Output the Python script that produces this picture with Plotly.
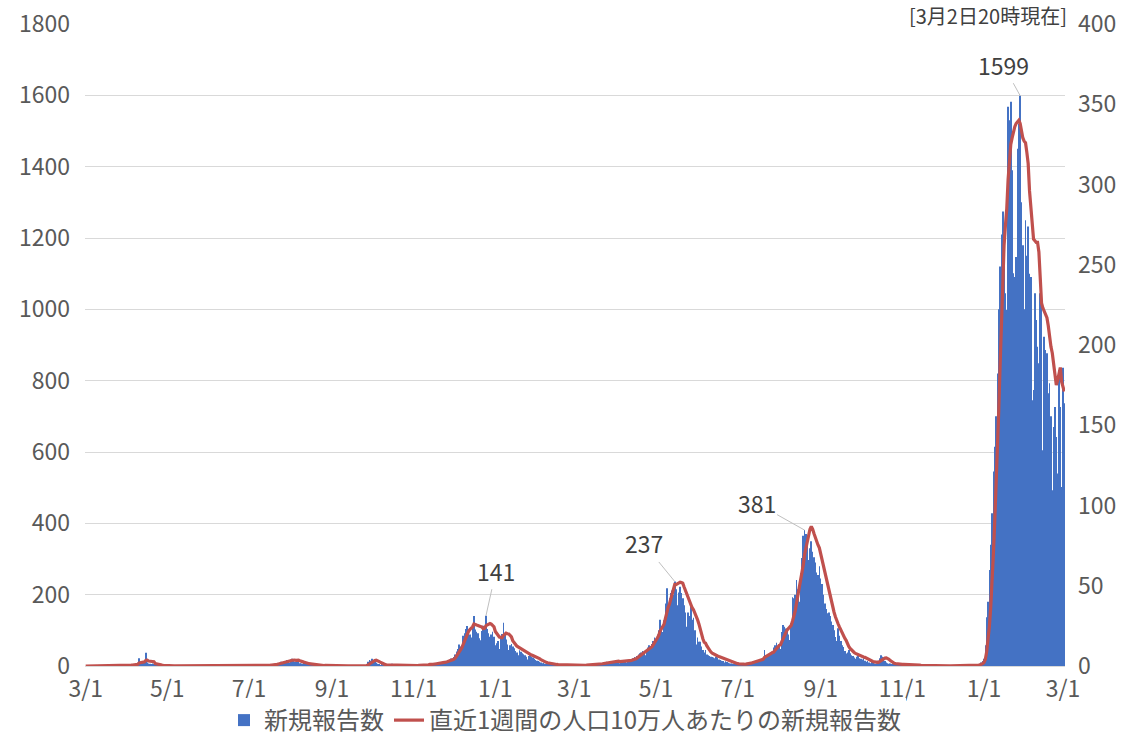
import pandas as pd
import plotly.graph_objects as go

# ---- daily new reports (bars) ----
c_2020_03 = [0,0,0,0,0,0,1,0,0,0,0,0,0,1,0,0,0,0,0,0,0,0,0,0,1,2,1,0,1,2,3]
c_2020_04 = [2,2,1,3,2,4,5,7,9,22,6,8,10,9,37,10,7,6,5,7,4,3,2,2,3,1,1,1,0,1]
c_2020_05 = [0,1,0,0,1,0,0,0,0,1,0,0,0,0,0,0,0,0,0,0,0,0,0,0,0,0,0,0,0,0,0]
c_2020_06 = [0,0,0,0,0,0,0,0,0,0,0,0,0,0,0,0,0,0,0,0,0,1,0,0,0,0,0,0,0,1]
c_2020_07 = [0,1,0,0,2,1,0,1,2,3,1,2,1,3,2,1,4,2,3,5,6,8,7,9,12,10,8,14,17,13,10]
c_2020_08 = [18,20,14,12,11,16,11,8,7,6,9,5,4,6,3,4,2,3,2,1,2,1,3,1,0,1,2,1,0,1,1]
c_2020_09 = [1,0,1,0,0,1,0,0,1,0,0,0,1,0,0,0,1,0,0,0,1,0,0,1,0,2,5,12,17,15]
c_2020_10 = [20,16,12,9,6,3,2,4,1,2,3,5,2,1,4,6,2,1,0,1,2,0,1,1,0,1,2,1,0,1,1]
c_2020_11 = [1,2,1,3,2,1,4,3,2,5,3,4,6,2,5,7,8,6,4,9,11,10,8,12,14,9,16,18,21,15]
c_2020_12 = [25,32,41,48,60,55,58,85,92,104,112,98,88,80,110,140,102,96,92,78,72,98,113,109,141,104,92,82,88,96,82]
c_2021_01 = [58,64,70,48,82,90,121,88,74,60,45,58,62,55,50,42,38,30,44,40,36,33,30,26,18,28,30,26,24,20,17]
c_2021_02 = [15,14,12,10,8,9,6,5,7,6,4,5,3,4,3,2,4,3,2,1,3,2,1,2,1,0,2,1]
c_2021_03 = [1,2,0,1,3,2,1,2,4,1,2,3,2,5,3,4,6,5,3,7,8,6,9,10,12,8,11,14,13,10,12]
c_2021_04 = [15,11,9,8,13,12,16,14,10,12,15,14,18,22,25,20,28,32,36,38,42,35,30,45,52,58,55,62,70,80]
c_2021_05 = [75,88,100,130,112,95,128,175,218,160,190,205,212,200,237,215,170,206,222,205,190,170,150,110,150,140,166,130,135,100,60]
c_2021_06 = [80,68,68,55,45,38,45,32,30,28,26,25,24,22,26,24,18,17,15,14,10,13,11,9,8,7,6,6,5,4]
c_2021_07 = [5,4,3,6,4,5,7,6,8,10,9,12,11,10,14,16,15,18,20,22,45,25,28,30,32,36,40,52,58,65,48]
c_2021_08 = [60,48,95,115,110,105,98,88,73,120,193,190,200,241,215,180,260,303,365,381,370,340,297,330,350,320,305,290,262,255,280]
c_2021_09 = [245,230,200,175,160,148,150,140,125,115,100,81,70,106,85,70,58,53,42,35,38,45,36,30,28,24,20,26,28,22]
c_2021_10 = [20,18,22,15,12,14,10,8,11,9,7,6,8,15,22,30,26,24,14,10,8,6,7,5,6,4,5,3,4,5,3]
c_2021_11 = [4,3,5,2,3,4,2,3,1,2,3,2,1,2,1,0,1,2,1,0,1,0,1,2,0,1,0,1,0,1]
c_2021_12 = [0,1,0,1,0,0,1,0,1,0,2,0,1,0,1,2,1,0,1,0,2,1,3,2,1,2,3,4,6,10,14]
c_2022_01 = [20,58,137,180,269,340,428,545,615,700,820,1000,1120,1210,1274,1214,1045,998,1568,1530,1582,1390,1101,1091,1147,1450,1520,1599,1300,1180,1000]
c_2022_02 = [1250,1150,1232,1100,1091,745,774,1045,970,895,849,1045,1026,605,923,886,877,765,793,700,493,670,726,642,540,830,726,502]
c_2022_03 = [836,737]

# ---- 7-day reports per 100k population (line) ----
l_2020_03 = [0,0,0,0,0,0,0.04,0.04,0.04,0.04,0.04,0.04,0.04,0.07,0.04,0.04,0.04,0.04,0.04,0.04,0,0,0,0,0.04,0.11,0.14,0.14,0.18,0.25,0.36]
l_2020_04 = [0.39,0.39,0.39,0.5,0.54,0.61,0.68,0.86,1.11,1.86,1.96,2.18,2.39,2.54,3.61,3.64,3.11,3.11,3.0,2.89,2.71,1.5,1.21,1.04,0.93,0.79,0.57,0.46,0.36,0.32]
l_2020_05 = [0.25,0.18,0.14,0.11,0.11,0.07,0.07,0.07,0.07,0.07,0.07,0.04,0.04,0.04,0.04,0.04,0,0,0,0,0,0,0,0,0,0,0,0,0,0,0]
l_2020_06 = [0,0,0,0,0,0,0,0,0,0,0,0,0,0,0,0,0,0,0,0,0,0.04,0.04,0.04,0.04,0.04,0.04,0.04,0,0.04]
l_2020_07 = [0.04,0.07,0.07,0.07,0.14,0.18,0.14,0.18,0.21,0.32,0.36,0.36,0.36,0.46,0.5,0.46,0.5,0.54,0.57,0.71,0.82,1.04,1.25,1.43,1.79,2.04,2.14,2.43,2.75,2.96,3.0]
l_2020_08 = [3.21,3.57,3.79,3.71,3.5,3.61,3.64,3.29,2.82,2.54,2.43,2.21,1.79,1.61,1.43,1.32,1.18,0.96,0.86,0.75,0.61,0.54,0.5,0.46,0.36,0.32,0.36,0.32,0.29,0.21,0.21]
l_2020_09 = [0.25,0.21,0.18,0.14,0.14,0.14,0.11,0.07,0.1,0.07,0.07,0.07,0.1,0.07,0.07,0.07,0.07,0.04,0.04,0.04,0.07,0.04,0.04,0.07,0.07,0.14,0.32,0.71,1.32,1.86]
l_2020_10 = [2.54,3.11,3.46,3.61,3.39,2.89,2.43,1.86,1.32,0.96,0.75,0.71,0.68,0.64,0.64,0.82,0.82,0.75,0.57,0.54,0.57,0.43,0.25,0.21,0.18,0.21,0.25,0.21,0.21,0.21,0.21]
l_2020_11 = [0.25,0.29,0.25,0.32,0.39,0.39,0.5,0.57,0.57,0.71,0.71,0.79,0.96,0.89,0.96,1.14,1.25,1.36,1.36,1.46,1.79,1.96,2.0,2.14,2.43,2.61,2.86,3.11,3.5,3.75]
l_2020_12 = [4.21,4.86,6.0,7.14,8.64,9.86,11.39,13.54,15.68,17.93,20.21,21.57,22.75,23.54,24.43,26.14,26.07,25.5,25.29,24.93,24.64,24.21,23.25,23.5,25.11,25.54,26.04,26.39,26.04,25.43,24.46]
l_2021_01 = [21.5,20.07,19.29,18.07,17.86,17.64,19.04,20.11,20.46,20.11,20.0,19.14,18.14,15.79,14.43,13.29,12.5,11.96,11.46,10.68,10.0,9.39,8.96,8.54,8.11,7.54,7.18,6.82,6.5,6.14,5.82]
l_2021_02 = [5.71,5.21,4.57,4.0,3.43,3.04,2.64,2.29,2.04,1.82,1.61,1.5,1.29,1.21,1.14,0.96,0.89,0.86,0.75,0.68,0.64,0.61,0.57,0.5,0.43,0.36,0.39,0.32]
l_2021_03 = [0.29,0.32,0.25,0.25,0.36,0.36,0.36,0.39,0.46,0.5,0.54,0.54,0.54,0.68,0.71,0.71,0.89,1.0,1.0,1.18,1.29,1.39,1.57,1.71,1.96,2.14,2.29,2.5,2.75,2.79,2.86]
l_2021_04 = [2.96,3.07,3.0,2.79,2.79,2.86,3.0,2.96,2.93,3.04,3.29,3.32,3.54,3.75,4.14,4.5,5.07,5.68,6.46,7.18,7.89,8.25,8.61,9.21,9.93,10.71,11.32,12.04,13.29,15.07]
l_2021_05 = [16.14,17.43,18.93,21.61,23.39,24.29,26.0,29.57,34.21,36.36,38.5,41.82,46.0,48.57,50.79,50.68,51.04,51.61,52.21,51.96,51.61,49.21,46.89,44.75,42.75,39.82,38.43,36.29,35.04,33.25,31.46]
l_2021_06 = [28.96,26.39,22.89,20.21,17.0,14.79,14.25,12.54,11.18,9.75,8.71,8.0,7.5,6.68,6.46,6.25,5.89,5.57,5.21,4.86,4.43,3.96,3.5,3.18,2.86,2.57,2.29,2.14,1.86,1.61]
l_2021_07 = [1.46,1.32,1.18,1.18,1.11,1.11,1.21,1.25,1.39,1.64,1.75,2.04,2.25,2.36,2.64,2.93,3.11,3.43,3.71,4.11,5.36,5.75,6.18,6.71,7.21,7.79,8.43,8.68,9.86,11.18,11.82]
l_2021_08 = [12.82,13.25,15.21,17.46,19.32,20.75,22.54,23.54,24.43,25.32,28.11,30.96,34.36,39.46,44.0,47.82,52.82,56.75,63.0,69.46,74.07,78.54,82.71,85.21,86.89,85.29,82.57,79.71,76.93,75.43,73.64]
l_2021_09 = [69.89,66.68,62.93,58.82,55.18,51.36,46.71,42.96,39.21,36.18,33.5,30.68,27.89,26.32,24.36,22.39,20.36,18.68,17.29,16.04,13.61,12.18,10.96,9.96,9.07,8.43,7.89,7.46,6.86,6.36]
l_2021_10 = [6.0,5.64,5.57,5.39,4.89,4.39,3.96,3.54,3.29,2.82,2.54,2.32,2.11,2.29,2.79,3.46,4.07,4.68,4.96,5.04,4.79,4.21,3.39,2.64,2.0,1.64,1.46,1.29,1.21,1.14,1.07]
l_2021_11 = [1.0,0.96,0.96,0.93,0.89,0.86,0.82,0.79,0.71,0.61,0.64,0.61,0.5,0.5,0.43,0.39,0.36,0.32,0.29,0.25,0.21,0.18,0.21,0.25,0.18,0.18,0.18,0.18,0.18,0.18]
l_2021_12 = [0.11,0.11,0.11,0.11,0.11,0.11,0.11,0.11,0.11,0.11,0.18,0.18,0.18,0.18,0.18,0.21,0.21,0.21,0.21,0.21,0.25,0.25,0.29,0.32,0.36,0.39,0.5,0.57,0.75,1.0,1.43]
l_2022_01 = [2.11,4.11,8.89,15.18,24.57,36.36,51.14,69.89,89.79,109.89,132.75,158.86,186.71,214.64,240.68,262.07,274.39,285.0,303.0,318.0,325.0,329.0,333.0,336.0,338.0,339.0,340.0,338.0,332.0,329.0,327.0]
l_2022_02 = [326.0,320.0,313.0,296.0,284.0,271.0,266.0,265.0,264.0,264.0,258.0,242.0,226.0,223.0,221.0,219.0,217.0,212.0,204.0,199.0,195.0,189.0,182.0,175.0,178.0,183.0,186.0,177.0]
l_2022_03 = [173.0,171.0]

# ---- axis ticks ----
tick_dates = ["2020-03-01", "2020-05-01", "2020-07-01", "2020-09-01", "2020-11-01",
              "2021-01-01", "2021-03-01", "2021-05-01", "2021-07-01", "2021-09-01",
              "2021-11-01", "2022-01-01", "2022-03-01"]
tick_labels = ["3/1", "5/1", "7/1", "9/1", "11/1", "1/1", "3/1", "5/1", "7/1", "9/1", "11/1", "1/1", "3/1"]

# ---- labelled peaks ----
peak_dates = ["2020-12-25", "2021-05-15", "2021-08-20", "2022-01-28"]
peak_values = [141, 237, 381, 1599]
peak_offsets = [(10, -45), (-31, -38), (-48, -27), (-17, -31)]

cases = (c_2020_03 + c_2020_04 + c_2020_05 + c_2020_06 + c_2020_07 + c_2020_08 + c_2020_09 +
         c_2020_10 + c_2020_11 + c_2020_12 + c_2021_01 + c_2021_02 + c_2021_03 + c_2021_04 +
         c_2021_05 + c_2021_06 + c_2021_07 + c_2021_08 + c_2021_09 + c_2021_10 + c_2021_11 +
         c_2021_12 + c_2022_01 + c_2022_02 + c_2022_03)
per100k = (l_2020_03 + l_2020_04 + l_2020_05 + l_2020_06 + l_2020_07 + l_2020_08 + l_2020_09 +
           l_2020_10 + l_2020_11 + l_2020_12 + l_2021_01 + l_2021_02 + l_2021_03 + l_2021_04 +
           l_2021_05 + l_2021_06 + l_2021_07 + l_2021_08 + l_2021_09 + l_2021_10 + l_2021_11 +
           l_2021_12 + l_2022_01 + l_2022_02 + l_2022_03)
dates = pd.date_range("2020-03-01", periods=len(cases), freq="D")

FONT = "Noto Sans CJK JP"
GREY = "#595959"

fig = go.Figure()
fig.add_trace(go.Bar(
    x=dates, y=cases, name="新規報告数",
    marker=dict(color="#4472C4", line=dict(width=0)),
    yaxis="y",
))
fig.add_trace(go.Scatter(
    x=dates[:len(per100k)], y=per100k, name="直近1週間の人口10万人あたりの新規報告数",
    mode="lines", line=dict(color="#C0504D", width=3.2),
    yaxis="y2",
))

annotations = []
for d, v, (ax, ay) in zip(peak_dates, peak_values, peak_offsets):
    annotations.append(dict(
        x=d, y=v, xref="x", yref="y", text=str(v),
        showarrow=True, arrowhead=0, arrowwidth=1, arrowcolor="#BFBFBF",
        ax=ax, ay=ay, standoff=0,
        font=dict(family=FONT, size=23, color="#404040"),
    ))
annotations.append(dict(
    x=1.003, y=1.0374, xref="paper", yref="paper", xanchor="right", yanchor="top",
    text="[3月2日20時現在]", showarrow=False, borderpad=0,
    font=dict(family=FONT, size=20, color="#404040"),
))

fig.update_layout(
    width=1130, height=738,
    margin=dict(l=85, r=65, t=24, b=72, autoexpand=False),
    paper_bgcolor="white", plot_bgcolor="white",
    font=dict(family=FONT, color=GREY),
    bargap=0.5,
    showlegend=True,
    legend=dict(
        orientation="h", xref="container", yref="container",
        x=0.5, xanchor="center", y=0.0237, yanchor="middle",
        font=dict(family=FONT, size=24, color=GREY),
        itemwidth=30, tracegroupgap=0,
    ),
    xaxis=dict(
        type="date", range=["2020-02-29 12:00", "2022-03-02 12:00"],
        tickmode="array", tickvals=tick_dates, ticktext=tick_labels,
        showgrid=False, showline=True, linecolor="#D9D9D9", linewidth=1,
        ticks="", tickfont=dict(family=FONT, size=23, color=GREY),
        ticklabelstandoff=2,
    ),
    yaxis=dict(
        range=[0, 1800], dtick=200, tick0=0,
        showgrid=True, gridcolor="#D9D9D9", gridwidth=1, zeroline=False,
        showline=False, ticks="",
        tickfont=dict(family=FONT, size=23, color=GREY),
        ticklabelstandoff=14,
    ),
    yaxis2=dict(
        range=[0, 400], dtick=50, tick0=0, overlaying="y", side="right",
        showgrid=False, zeroline=False, showline=False, ticks="",
        tickfont=dict(family=FONT, size=23, color=GREY),
        ticklabelstandoff=12,
    ),
    annotations=annotations,
)

fig.write_html(
    "out.html",
    config={"displayModeBar": False},
    post_script="document.body.style.margin='0';document.body.style.overflow='hidden';",
)
